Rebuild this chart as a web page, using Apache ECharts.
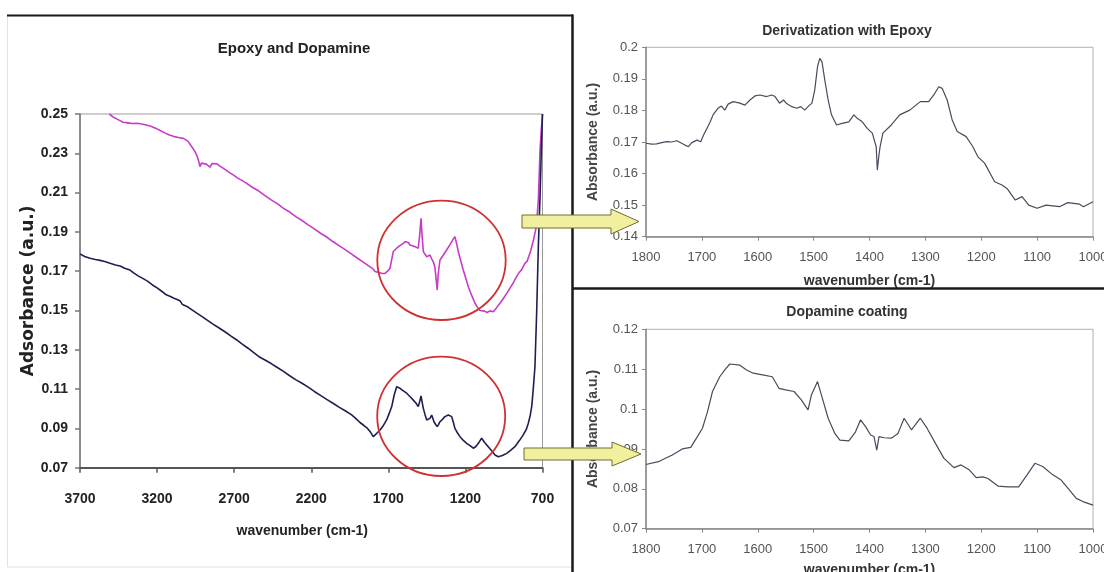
<!DOCTYPE html>
<html>
<head>
<meta charset="utf-8">
<script src="https://cdn.jsdelivr.net/npm/echarts@6/dist/echarts.min.js"></script>
<style>
  html, body { margin: 0; padding: 0; background: #ffffff; }
  #chart { width: 1104px; height: 572px; }
</style>
</head>
<body>
<div id="chart"></div>
<script>
// ---- FTIR spectra: [wavenumber (cm-1), absorbance (a.u.)] ----

// Full range, epoxy-derivatized surface
const epoxySurvey = [
  [3510,0.2500],[3480,0.2482],[3450,0.2470],[3420,0.2458],[3390,0.2455],[3360,0.2452],
  [3330,0.2453],[3300,0.2449],[3270,0.2444],[3240,0.2438],[3210,0.2428],[3180,0.2416],
  [3150,0.2404],[3120,0.2393],[3090,0.2385],[3060,0.2380],[3030,0.2376],[3000,0.2362],
  [2975,0.2333],[2955,0.2310],[2943,0.2291],[2930,0.2260],[2922,0.2232],[2912,0.2250],
  [2900,0.2258],[2880,0.2245],[2857,0.2229],[2843,0.2248],[2831,0.2257],[2812,0.2246],
  [2792,0.2235],[2760,0.2218],[2730,0.2202],[2706,0.2190],[2680,0.2175],[2650,0.2162],
  [2619,0.2147],[2580,0.2126],[2540,0.2108],[2500,0.2085],[2460,0.2063],[2420,0.2044],
  [2380,0.2020],[2340,0.2001],[2300,0.1978],[2260,0.1958],[2220,0.1936],[2180,0.1915],
  [2140,0.1893],[2100,0.1874],[2060,0.1851],[2020,0.1830],[1980,0.1810],[1940,0.1788],
  [1900,0.1766],[1860,0.1745],[1830,0.1728],[1800,0.1712],[1787,0.1699],[1760,0.1693],
  [1740,0.1688],[1722,0.1689],[1705,0.1700],[1689,0.1715],[1678,0.1760],[1668,0.1800],
  [1656,0.1808],[1646,0.1817],[1625,0.1830],[1603,0.1842],[1590,0.1850],[1581,0.1859],
  [1570,0.1846],[1560,0.1833],[1545,0.1830],[1527,0.1825],[1515,0.1822],[1506,0.1817],
  [1497,0.1880],[1488,0.1969],[1481,0.1880],[1473,0.1800],[1462,0.1786],[1451,0.1774],
  [1440,0.1780],[1430,0.1782],[1418,0.1762],[1408,0.1748],[1398,0.1720],[1390,0.1660],
  [1383,0.1604],[1376,0.1690],[1365,0.1757],[1345,0.1780],[1322,0.1808],[1300,0.1835],
  [1280,0.1862],[1268,0.1876],[1257,0.1840],[1246,0.1800],[1230,0.1752],[1214,0.1706],
  [1198,0.1665],[1181,0.1621],[1160,0.1578],[1138,0.1537],[1118,0.1512],[1106,0.1500],
  [1095,0.1494],[1075,0.1497],[1060,0.1490],[1040,0.1498],[1019,0.1494],[1000,0.1512],
  [976,0.1537],[955,0.1560],[932,0.1587],[910,0.1615],[890,0.1640],[868,0.1672],
  [850,0.1695],[835,0.1708],[814,0.1740],[800,0.1750],[792,0.1757],[778,0.1800],
  [768,0.1790],[758,0.1860],[740,0.1927],[727,0.2062],[716,0.2317],[708,0.2420],[700,0.2500]
];

// Full range, dopamine-coated surface
const dopamineSurvey = [
  [3700,0.1788],[3670,0.1775],[3635,0.1766],[3600,0.1760],[3570,0.1755],[3540,0.1749],
  [3505,0.1740],[3470,0.1732],[3440,0.1726],[3410,0.1715],[3376,0.1706],[3350,0.1690],
  [3320,0.1675],[3290,0.1662],[3260,0.1648],[3230,0.1630],[3200,0.1615],[3170,0.1598],
  [3140,0.1580],[3110,0.1570],[3091,0.1562],[3070,0.1556],[3050,0.1548],[3035,0.1530],
  [3025,0.1538],[3010,0.1522],[2995,0.1515],[2985,0.1520],[2971,0.1502],[2940,0.1485],
  [2910,0.1470],[2875,0.1451],[2840,0.1432],[2800,0.1412],[2760,0.1392],[2720,0.1370],
  [2683,0.1350],[2650,0.1330],[2610,0.1308],[2575,0.1287],[2539,0.1265],[2500,0.1248],
  [2460,0.1230],[2420,0.1210],[2380,0.1190],[2340,0.1168],[2299,0.1147],[2260,0.1130],
  [2220,0.1110],[2180,0.1088],[2140,0.1068],[2100,0.1048],[2059,0.1028],[2020,0.1008],
  [1980,0.0990],[1940,0.0970],[1910,0.0950],[1884,0.0930],[1860,0.0916],[1835,0.0900],
  [1815,0.0880],[1798,0.0858],[1775,0.0875],[1754,0.0892],[1732,0.0915],[1711,0.0943],
  [1695,0.0975],[1678,0.1011],[1662,0.1070],[1646,0.1112],[1635,0.1108],[1624,0.1104],
  [1600,0.1090],[1581,0.1079],[1560,0.1062],[1538,0.1044],[1520,0.1028],[1506,0.1011],
  [1497,0.1035],[1488,0.1065],[1480,0.1030],[1473,0.1002],[1462,0.0970],[1451,0.0943],
  [1440,0.0948],[1430,0.0951],[1419,0.0968],[1411,0.0950],[1404,0.0934],[1393,0.0920],
  [1383,0.0909],[1374,0.0920],[1365,0.0934],[1350,0.0945],[1333,0.0960],[1322,0.0965],
  [1311,0.0968],[1300,0.0966],[1289,0.0960],[1278,0.0930],[1268,0.0900],[1250,0.0875],
  [1235,0.0858],[1215,0.0840],[1192,0.0824],[1170,0.0812],[1149,0.0799],[1132,0.0808],
  [1116,0.0824],[1105,0.0838],[1095,0.0850],[1075,0.0828],[1052,0.0807],[1030,0.0786],
  [1008,0.0765],[987,0.0756],[960,0.0762],[932,0.0773],[905,0.0790],[879,0.0807],
  [850,0.0838],[825,0.0867],[805,0.0895],[792,0.0926],[780,0.0965],[770,0.1011],
  [760,0.1100],[749,0.1214],[738,0.1486],[727,0.1825],[716,0.2079],[708,0.2300],[700,0.2500]
];

// Fingerprint region 1800-1000, derivatization with epoxy
const epoxyDetail = [
  [1800,0.1696],[1790,0.1693],[1781,0.1694],[1772,0.1698],[1763,0.1701],[1754,0.1700],
  [1745,0.1704],[1736,0.1696],[1730,0.1690],[1724,0.1685],[1718,0.1698],[1709,0.1706],
  [1702,0.1701],[1697,0.1722],[1691,0.1743],[1685,0.1764],[1680,0.1786],[1671,0.1807],
  [1665,0.1814],[1659,0.1801],[1653,0.1820],[1644,0.1828],[1632,0.1823],[1623,0.1817],
  [1614,0.1833],[1605,0.1846],[1596,0.1849],[1584,0.1844],[1575,0.1849],[1569,0.1844],
  [1561,0.1823],[1554,0.1833],[1549,0.1823],[1539,0.1812],[1530,0.1807],[1523,0.1812],
  [1516,0.1801],[1510,0.1812],[1503,0.1823],[1498,0.1865],[1493,0.1939],[1489,0.1965],
  [1485,0.1954],[1480,0.1896],[1474,0.1833],[1468,0.1786],[1459,0.1754],[1449,0.1759],
  [1437,0.1764],[1428,0.1786],[1422,0.1775],[1413,0.1764],[1404,0.1743],[1395,0.1728],
  [1388,0.1685],[1386,0.1611],[1383,0.1660],[1381,0.1685],[1376,0.1728],[1361,0.1754],
  [1346,0.1786],[1328,0.1801],[1309,0.1828],[1294,0.1828],[1285,0.1849],[1276,0.1875],
  [1270,0.1870],[1261,0.1833],[1252,0.1770],[1243,0.1733],[1227,0.1717],[1215,0.1685],
  [1206,0.1653],[1194,0.1633],[1176,0.1574],[1163,0.1564],[1154,0.1553],[1139,0.1516],
  [1127,0.1527],[1115,0.1500],[1100,0.1490],[1084,0.1500],[1060,0.1495],[1045,0.1508],
  [1024,0.1503],[1017,0.1495],[1000,0.1511]
];

// Fingerprint region 1800-1000, dopamine coating
const dopamineDetail = [
  [1800,0.0861],[1778,0.0868],[1753,0.0885],[1735,0.0900],[1720,0.0904],[1708,0.0931],
  [1699,0.0952],[1690,0.0993],[1681,0.1044],[1668,0.1081],[1659,0.1098],[1650,0.1113],
  [1632,0.1110],[1620,0.1098],[1608,0.1090],[1589,0.1085],[1574,0.1081],[1562,0.1052],
  [1550,0.1048],[1535,0.1044],[1522,0.1023],[1510,0.0998],[1504,0.1035],[1493,0.1069],
  [1486,0.1035],[1474,0.0977],[1462,0.0939],[1453,0.0922],[1437,0.0920],[1425,0.0943],
  [1416,0.0973],[1407,0.0956],[1398,0.0935],[1392,0.0931],[1387,0.0897],[1383,0.0931],
  [1374,0.0928],[1361,0.0927],[1349,0.0939],[1338,0.0977],[1325,0.0948],[1309,0.0977],
  [1297,0.0952],[1282,0.0914],[1267,0.0877],[1249,0.0853],[1236,0.0860],[1221,0.0847],
  [1209,0.0828],[1197,0.0830],[1188,0.0826],[1170,0.0807],[1152,0.0805],[1133,0.0805],
  [1118,0.0835],[1104,0.0864],[1090,0.0856],[1072,0.0835],[1057,0.0822],[1042,0.0797],
  [1030,0.0776],[1018,0.0768],[1000,0.0759]
];

// Axis tick settings
const surveyWavenumberTicks = { min: 700, max: 3700, interval: 500 };
const surveyAbsTicks = { min: 0.07, max: 0.25, interval: 0.02 };
const detailWavenumberTicks = { min: 1000, max: 1800, interval: 100 };
const epoxyAbsTicks = { min: 0.14, max: 0.20, interval: 0.01 };
const dopamineAbsTicks = { min: 0.07, max: 0.12, interval: 0.01 };

// ---- styling ----
const ARIAL = "'Liberation Sans', Arial, sans-serif";
const trim = v => String(parseFloat(v.toFixed(2)));
const plain = v => String(v);

function detailX(gridIndex) {
  return {
    gridIndex, type: 'value', inverse: true,
    min: detailWavenumberTicks.min, max: detailWavenumberTicks.max, interval: detailWavenumberTicks.interval,
    axisLine: { show: true, onZero: false, lineStyle: { color: '#888', width: 1.5 } },
    axisTick: { show: true, length: 4, lineStyle: { color: '#888' } },
    axisLabel: { margin: 14, fontSize: 13, fontFamily: ARIAL, color: '#555', formatter: plain },
    splitLine: { show: false },
    name: 'wavenumber (cm-1)', nameLocation: 'middle',
    nameGap: gridIndex === 1 ? 37 : 34,
    nameTextStyle: { fontSize: 14, fontWeight: 'bold', fontFamily: ARIAL, color: '#333' }
  };
}
function detailY(gridIndex, ticks) {
  return {
    gridIndex, type: 'value',
    min: ticks.min, max: ticks.max, interval: ticks.interval,
    axisLine: { show: true, onZero: false, lineStyle: { color: '#888', width: 1.5 } },
    axisTick: { show: true, length: 4, lineStyle: { color: '#888' } },
    axisLabel: { margin: 8, fontSize: 13, fontFamily: ARIAL, color: '#555', formatter: trim },
    splitLine: { show: false },
    name: 'Absorbance (a.u.)', nameLocation: 'middle', nameGap: 46,
    nameTextStyle: { fontSize: 14, fontWeight: 'bold', fontFamily: ARIAL, color: '#444' }
  };
}

const chart = echarts.init(document.getElementById('chart'), null, { renderer: 'canvas' });

chart.setOption({
  backgroundColor: '#ffffff',
  animation: false,
  title: [
    { text: 'Epoxy and Dopamine', left: 289, top: 36, textAlign: 'center',
      textStyle: { fontSize: 15, fontWeight: 'bold', fontFamily: ARIAL, color: '#222' } },
    { text: 'Derivatization with Epoxy', left: 842, top: 19, textAlign: 'center',
      textStyle: { fontSize: 14, fontWeight: 'bold', fontFamily: ARIAL, color: '#333' } },
    { text: 'Dopamine coating', left: 842, top: 300, textAlign: 'center',
      textStyle: { fontSize: 14, fontWeight: 'bold', fontFamily: ARIAL, color: '#333' } }
  ],
  grid: [
    { left: 80, top: 114, width: 462.5, height: 353.7, show: true, borderColor: '#9a9a9a', borderWidth: 1,
      containLabel: false, outerBoundsMode: 'none' },
    { left: 646, top: 47.3, width: 447, height: 189.4, show: true, borderColor: '#b0b0b0', borderWidth: 1,
      containLabel: false, outerBoundsMode: 'none' },
    { left: 646, top: 329.3, width: 447, height: 199.4, show: true, borderColor: '#b0b0b0', borderWidth: 1,
      containLabel: false, outerBoundsMode: 'none' }
  ],
  xAxis: [
    {
      gridIndex: 0, type: 'value', inverse: true,
      min: surveyWavenumberTicks.min, max: surveyWavenumberTicks.max, interval: surveyWavenumberTicks.interval,
      axisLine: { show: true, onZero: false, lineStyle: { color: '#555', width: 2 } },
      axisTick: { show: true, length: 5, lineStyle: { color: '#555', width: 1.5 } },
      axisLabel: { margin: 24, fontSize: 14, fontWeight: 'bold', fontFamily: ARIAL, color: '#222', formatter: plain },
      splitLine: { show: false },
      name: 'wavenumber (cm-1)', nameLocation: 'middle', nameGap: 56,
      nameTextStyle: { fontSize: 14, fontWeight: 'bold', fontFamily: ARIAL, color: '#222', padding: [0, 18, 0, 0] }
    },
    detailX(1),
    detailX(2)
  ],
  yAxis: [
    {
      gridIndex: 0, type: 'value',
      min: surveyAbsTicks.min, max: surveyAbsTicks.max, interval: surveyAbsTicks.interval,
      axisLine: { show: true, onZero: false, lineStyle: { color: '#777', width: 1.5 } },
      axisTick: { show: true, length: 5, lineStyle: { color: '#777', width: 1.5 } },
      axisLabel: { margin: 12, fontSize: 14, fontWeight: 'bold', fontFamily: ARIAL, color: '#222',
        formatter: v => v.toFixed(2) },
      splitLine: { show: false },
      name: 'Adsorbance (a.u.)', nameLocation: 'middle', nameGap: 42,
      nameTextStyle: { fontSize: 17, fontWeight: 'bold', fontFamily: "'DejaVu Sans', sans-serif", color: '#222' }
    },
    detailY(1, epoxyAbsTicks),
    detailY(2, dopamineAbsTicks)
  ],
  series: [
    { name: 'Epoxy', type: 'line', xAxisIndex: 0, yAxisIndex: 0, data: epoxySurvey,
      showSymbol: false, lineStyle: { color: '#c63cc6', width: 1.6 }, z: 3 },
    { name: 'Dopamine', type: 'line', xAxisIndex: 0, yAxisIndex: 0, data: dopamineSurvey,
      showSymbol: false, lineStyle: { color: '#1e1e52', width: 1.6 }, z: 3 },
    { name: 'Derivatization with Epoxy', type: 'line', xAxisIndex: 1, yAxisIndex: 1, data: epoxyDetail,
      showSymbol: false, lineStyle: { color: '#4a4a5c', width: 1.2 } },
    { name: 'Dopamine coating', type: 'line', xAxisIndex: 2, yAxisIndex: 2, data: dopamineDetail,
      showSymbol: false, lineStyle: { color: '#4a4a5c', width: 1.2 } }
  ],
  graphic: [
    // panel frames
    { type: 'line', z: 50, silent: true, shape: { x1: 7.5, y1: 16, x2: 7.5, y2: 567 }, style: { stroke: '#e2e2e2', lineWidth: 1 } },
    { type: 'line', z: 50, silent: true, shape: { x1: 7.5, y1: 567, x2: 572, y2: 567 }, style: { stroke: '#e2e2e2', lineWidth: 1 } },
    { type: 'line', z: 50, silent: true, shape: { x1: 7, y1: 15.5, x2: 573, y2: 15.5 }, style: { stroke: '#1a1a1a', lineWidth: 2 } },
    { type: 'line', z: 50, silent: true, shape: { x1: 572.5, y1: 14.5, x2: 572.5, y2: 572 }, style: { stroke: '#1a1a1a', lineWidth: 2.5 } },
    { type: 'line', z: 50, silent: true, shape: { x1: 572, y1: 288.5, x2: 1104, y2: 288.5 }, style: { stroke: '#1a1a1a', lineWidth: 2.5 } },
    // highlighted regions
    { type: 'ellipse', z: 60, silent: true, shape: { cx: 441.5, cy: 260.3, rx: 64.2, ry: 59.7 },
      style: { fill: 'none', stroke: '#d03030', lineWidth: 1.8 } },
    { type: 'ellipse', z: 60, silent: true, shape: { cx: 441.2, cy: 416.3, rx: 64, ry: 59.7 },
      style: { fill: 'none', stroke: '#d03030', lineWidth: 1.8 } },
    // arrows to the detail panels
    { type: 'polygon', z: 100, silent: true,
      shape: { points: [[522,215],[611,215],[611,209],[639,221.5],[611,234],[611,228],[522,228]] },
      style: { fill: '#f1f09e', stroke: '#6e6e2e', lineWidth: 1 } },
    { type: 'polygon', z: 100, silent: true,
      shape: { points: [[524,448],[612,448],[612,442],[641,454],[612,466],[612,460],[524,460]] },
      style: { fill: '#f1f09e', stroke: '#6e6e2e', lineWidth: 1 } }
  ]
});
</script>
</body>
</html>
